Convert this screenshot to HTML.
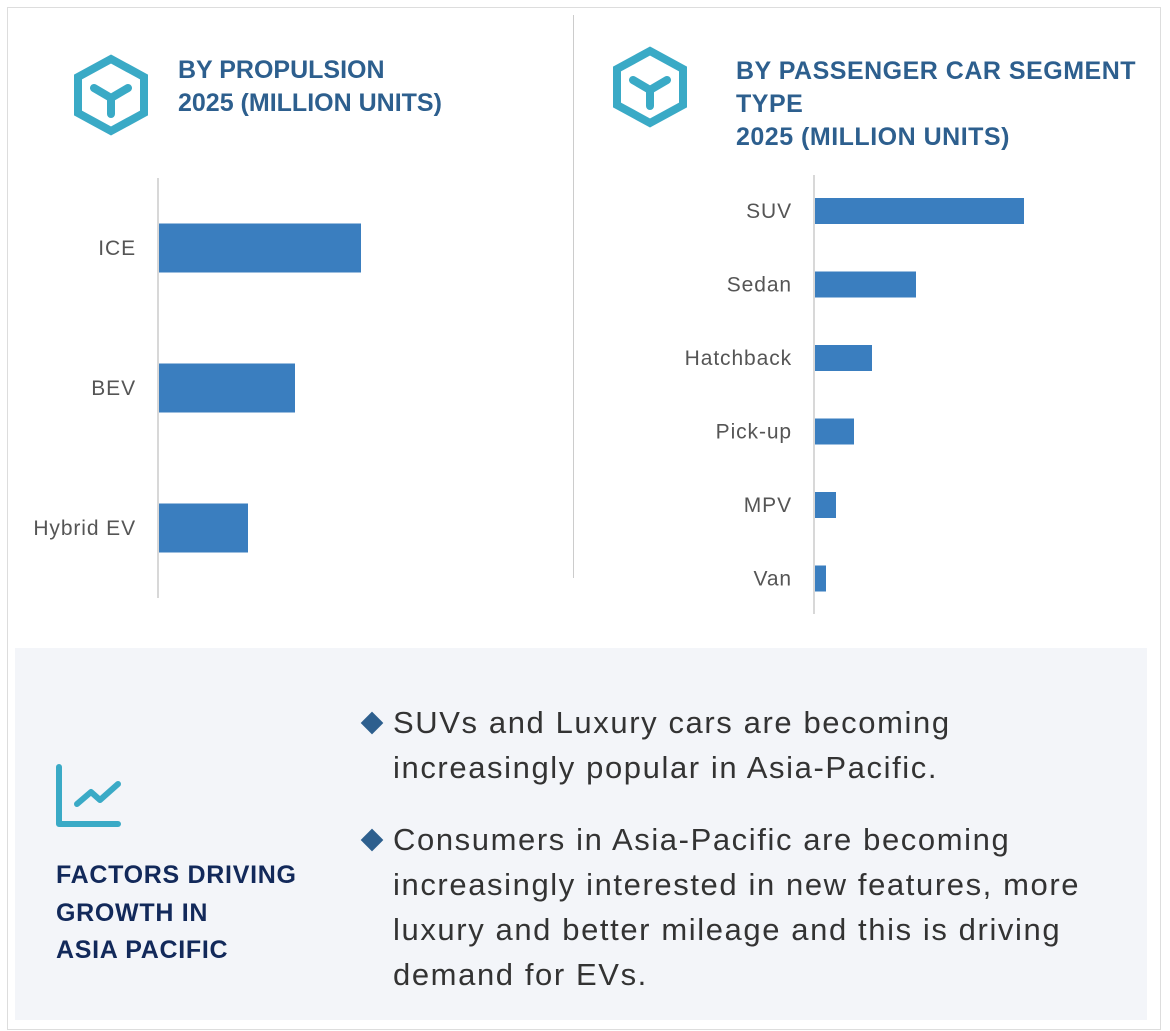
<!DOCTYPE html>
<html><head><meta charset="utf-8"><style>
body{margin:0;width:1170px;height:1031px;background:#fff;font-family:"Liberation Sans",sans-serif;position:relative;overflow:hidden}
.abs{position:absolute}
.title{color:#2d5f8e;font-weight:bold;font-size:25px;line-height:33px;letter-spacing:0px}
.bullet{position:absolute;left:393px;font-size:31px;line-height:45px;color:#333;width:760px;letter-spacing:1.6px}
.dia{position:absolute;width:16px;height:16px;background:#2d5f8e;transform:rotate(45deg)}
</style></head><body>
<div class="abs" style="left:7px;top:7px;width:1152px;height:1021px;border:1px solid #ddd"></div>
<div class="abs" style="left:573px;top:15px;width:1px;height:563px;background:#ccc"></div>

<svg class="abs" style="left:70px;top:54px" width="82" height="82" viewBox="0 0 82 82">
<polygon points="41,5 74,23 74,59 41,77 8,59 8,23" fill="none" stroke="#3aaac6" stroke-width="8"/>
<path d="M24,34 L41,44 L58,34 M41,44 L41,60" fill="none" stroke="#3aaac6" stroke-width="8" stroke-linecap="round"/></svg>
<div class="abs title" style="left:178px;top:54px">BY PROPULSION<br>2025 (MILLION UNITS)</div>

<svg class="abs" style="left:609px;top:46px" width="82" height="82" viewBox="0 0 82 82">
<polygon points="41,5 74,23 74,59 41,77 8,59 8,23" fill="none" stroke="#3aaac6" stroke-width="8"/>
<path d="M24,34 L41,44 L58,34 M41,44 L41,60" fill="none" stroke="#3aaac6" stroke-width="8" stroke-linecap="round"/></svg>
<div class="abs title" style="left:736px;top:55px;letter-spacing:0.5px">BY PASSENGER CAR SEGMENT<br>TYPE<br>2025 (MILLION UNITS)</div>

<svg class="abs" id="chart" style="left:0;top:0" width="1170" height="640"></svg>

<div class="abs" style="left:15px;top:648px;width:1132px;height:372px;background:#f3f5f9"></div>
<svg class="abs" style="left:52px;top:762px" width="72" height="70" viewBox="0 0 72 70">
<path d="M7,5 L7,62 L66,62" fill="none" stroke="#3aaac6" stroke-width="6" stroke-linecap="round" stroke-linejoin="round"/>
<path d="M25,42 L39,30 L48,38 L66,22" fill="none" stroke="#3aaac6" stroke-width="6" stroke-linecap="round" stroke-linejoin="round"/></svg>
<div class="abs" style="left:56px;top:857px;font-size:25px;line-height:37.5px;font-weight:bold;color:#12295a;letter-spacing:0.7px">FACTORS DRIVING<br>GROWTH IN<br>ASIA PACIFIC</div>

<div class="dia" style="left:364px;top:715px"></div>
<div class="bullet" style="top:700px">SUVs and Luxury cars are becoming<br>increasingly popular in Asia-Pacific.</div>
<div class="dia" style="left:364px;top:832px"></div>
<div class="bullet" style="top:817px">Consumers in Asia-Pacific are becoming<br>increasingly interested in new features, more<br>luxury and better mileage and this is driving<br>demand for EVs.</div>

<script>
const propCats=["ICE","BEV","Hybrid EV"];
const propVals=[20.3,13.7,9.0];
const segCats=["SUV","Sedan","Hatchback","Pick-up","MPV","Van"];
const segVals=[21.0,10.2,5.8,4.0,2.2,1.2];
const NS="http://www.w3.org/2000/svg";
const svg=document.getElementById('chart');
function mk(t,a){const e=document.createElementNS(NS,t);for(const k in a)e.setAttribute(k,a[k]);svg.appendChild(e);return e;}
function chart(cats,vals,x0,top,bottom,firstCenter,step,barH,name){
  const ax=mk('line',{x1:x0,y1:top,x2:x0,y2:bottom,stroke:'#ccc','stroke-width':1.5});
  
  
  const xs=v=>x0+v*10;
  cats.forEach((c,i)=>{
    const cy=firstCenter+i*step;
    const r=mk('rect',{x:x0+1,y:cy-barH/2,width:xs(vals[i])-x0-1,height:barH,fill:'#3a7ebf'});
    
    
    const t=mk('text',{x:x0-22,y:cy+7,'text-anchor':'end','font-size':21,'letter-spacing':0.9,fill:'#555','font-family':'Liberation Sans, sans-serif'});
    t.textContent=c;
    
    
  });
}
chart(propCats,propVals,158,178,598,248,140,49,'propulsion');
chart(segCats,segVals,814,175,614,211,73.5,26,'segment');
</script>
</body></html>
